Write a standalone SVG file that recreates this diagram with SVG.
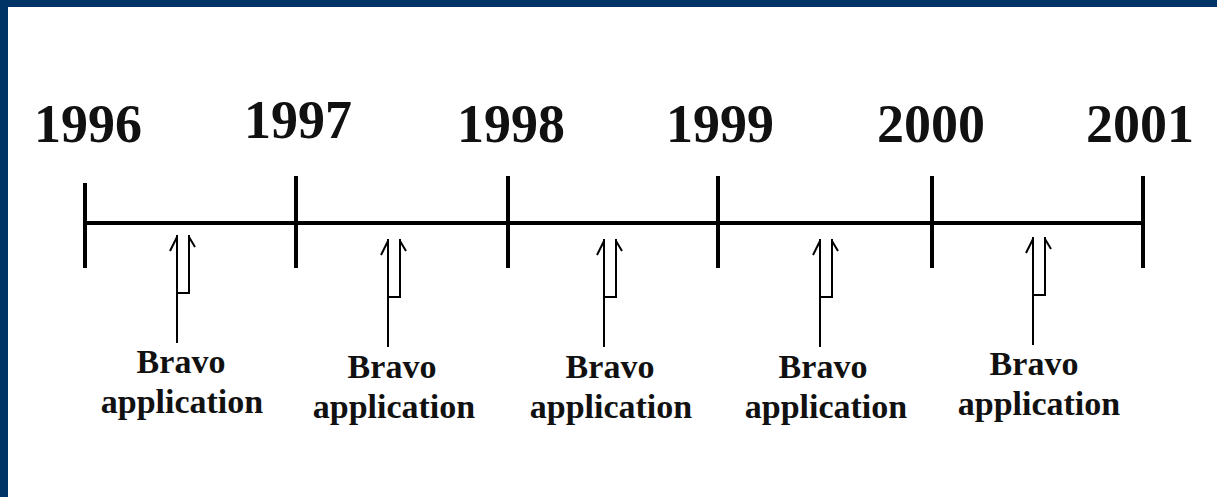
<svg xmlns="http://www.w3.org/2000/svg" width="1217" height="497" viewBox="0 0 1217 497">
  <style>
    .year { font-family: "Liberation Serif", "Times New Roman", serif; font-weight: bold; font-size: 54px; fill: #111; text-anchor: middle; }
    .label { font-family: "Liberation Serif", "Times New Roman", serif; font-weight: bold; font-size: 34px; fill: #111; text-anchor: middle; }
    .axis { stroke: #000; stroke-width: 4; fill: none; }
    .arrow { stroke: #000; stroke-width: 2; fill: none; }
  </style>
  <defs>
    <!-- double-stroke upward arrow, drawn around x=0 -->
    <g id="upArrow">
      <path class="arrow" d="M-6,235 V343 M6,235 V293 H-6"/>
      <path class="arrow" d="M-6,237 L-13,251 M6,237 L12,247"/>
    </g>
  </defs>

  <!-- frame -->
  <rect x="0" y="0" width="1217" height="497" fill="#ffffff"/>
  <rect x="0" y="0" width="1217" height="7" fill="#003366"/>
  <rect x="0" y="0" width="8" height="497" fill="#003366"/>

  <!-- timeline axis and year ticks -->
  <g id="connectors">
    <line class="axis" x1="85" y1="223" x2="1143" y2="223"/>
    <line class="axis" x1="85" y1="183" x2="85" y2="268"/>
    <line class="axis" x1="296" y1="176" x2="296" y2="268"/>
    <line class="axis" x1="508" y1="176" x2="508" y2="268"/>
    <line class="axis" x1="718" y1="176" x2="718" y2="268"/>
    <line class="axis" x1="932" y1="176" x2="932" y2="268"/>
    <line class="axis" x1="1143" y1="176" x2="1143" y2="268"/>
    <use href="#upArrow" x="183" y="0"/>
    <use href="#upArrow" x="394" y="4"/>
    <use href="#upArrow" x="610" y="4"/>
    <use href="#upArrow" x="826" y="4"/>
    <use href="#upArrow" x="1039" y="2"/>
  </g>

  <!-- years -->
  <g id="year-1996"><text class="year" x="88" y="142">1996</text></g>
  <g id="year-1997"><text class="year" x="298" y="138">1997</text></g>
  <g id="year-1998"><text class="year" x="511" y="142">1998</text></g>
  <g id="year-1999"><text class="year" x="720" y="142">1999</text></g>
  <g id="year-2000"><text class="year" x="931" y="142">2000</text></g>
  <g id="year-2001"><text class="year" x="1140" y="142">2001</text></g>

  <!-- application labels -->
  <g id="app-1"><text class="label" x="181" y="373">Bravo</text><text class="label" x="182" y="413">application</text></g>
  <g id="app-2"><text class="label" x="392" y="378">Bravo</text><text class="label" x="394" y="418">application</text></g>
  <g id="app-3"><text class="label" x="610" y="378">Bravo</text><text class="label" x="611" y="418">application</text></g>
  <g id="app-4"><text class="label" x="823" y="378">Bravo</text><text class="label" x="826" y="418">application</text></g>
  <g id="app-5"><text class="label" x="1034" y="375">Bravo</text><text class="label" x="1039" y="415">application</text></g>
</svg>
